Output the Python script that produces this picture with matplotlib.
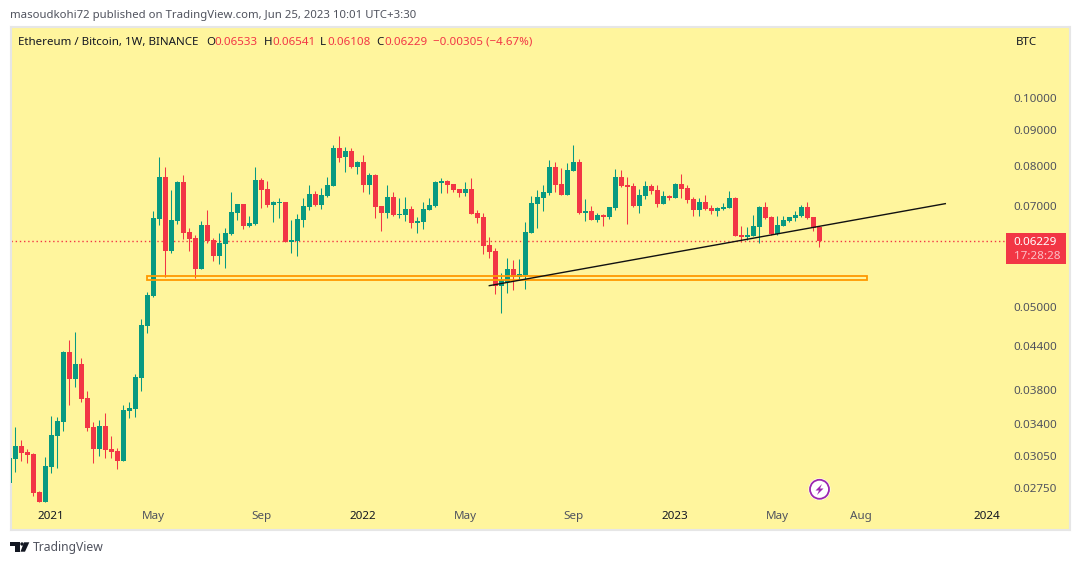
import matplotlib
matplotlib.use("Agg")
import matplotlib.pyplot as plt
from matplotlib.patches import Circle, Polygon, Rectangle

plt.rcParams['font.family'] = ['Noto Sans', 'DejaVu Sans']

# Weekly ETH/BTC candles
opens = [.02794, .03025, .03159, .03097, .03076, .02712, .02623, .02947, .03266, .03421,
         .04314, .03944, .04146, .03704, .03365, .03127, .03376, .03127, .03107, .03005,
         .03547, .03571, .03958, .04703, .05195, .06706, .07708, .0603, .06661, .07581,
         .06423, .06296, .05681, .06574, .06254, .05932, .06172, .06381, .06841, .07048,
         .06552, .06596, .07631, .07407, .07025, .07071, .07095, .06213, .06234, .06683,
         .06978, .07286, .07025, .07237, .07482, .08486, .08237, .08402, .07968, .08101,
         .07507, .0776, .07001, .06841, .07213, .06796, .06796, .06931, .06618, .0664,
         .06908, .07001, .07556, .07606, .07531, .07407, .0731, .07407, .06841, .06751,
         .06152, .0603, .0537, .05442, .05681, .05533, .0557, .06402, .07048, .07189,
         .0731, .07968, .07531, .07262, .07862, .08101, .06841, .06886, .06683, .06796,
         .06751, .06955, .07708, .07507, .07482, .07001, .07237, .07482, .07382, .07048,
         .07237, .07189, .07531, .07432, .07165, .06908, .07095, .06955, .06886, .06931,
         .06955, .07189, .0636, .06317, .06338, .0653, .06978, .06751, .06381, .06552,
         .06661, .06728, .06773, .06978, .06751, .06533]
highs = [.03035, .03365, .03222, .03127, .03086, .02721, .03046, .03489, .03478, .04328,
         .04489, .0461, .04229, .03791, .03421, .03443, .03524, .03266, .03138, .03619,
         .03655, .04011, .04813, .05264, .06886, .08237, .07968, .07382, .07606, .0776,
         .06509, .0636, .06661, .06908, .06296, .06402, .06509, .07334, .07048, .07048,
         .06773, .07968, .07682, .07606, .07118, .07189, .07095, .06683, .06818, .07189,
         .07507, .07358, .07432, .07708, .08571, .0883, .08514, .08486, .08127, .08292,
         .07811, .07785, .07001, .07507, .07334, .07189, .07213, .07001, .06751, .07095,
         .07189, .07606, .07682, .07631, .07531, .07407, .07581, .07682, .06908, .06841,
         .06317, .06091, .05607, .05892, .05853, .05873, .0664, .07237, .07382, .07507,
         .08154, .08101, .07941, .08074, .08571, .08182, .07165, .07001, .06841, .06818,
         .06978, .07915, .07888, .07708, .07556, .07407, .07606, .07531, .07507, .07358,
         .07262, .07556, .07785, .07507, .07213, .07189, .07262, .07025, .06978, .07071,
         .07358, .07213, .06552, .0653, .06796, .07001, .07095, .06773, .06773, .06773,
         .06751, .06886, .07025, .07095, .06751, .06541]
lows = [.02794, .02898, .03005, .02986, .02677, .02623, .02623, .02888, .02937, .0332,
        .03619, .03841, .03655, .0332, .02986, .03056, .03035, .03035, .02927, .03005,
        .03466, .03478, .03791, .04595, .05178, .06574, .05533, .05991, .06596, .06275,
        .0603, .05514, .05681, .06193, .05834, .05777, .057, .0636, .06683, .06487,
        .0653, .06574, .06955, .06978, .0664, .06728, .06213, .05991, .05932, .0653,
        .06908, .07001, .06931, .07213, .07482, .08101, .07837, .07941, .07785, .07334,
        .07286, .06728, .06444, .06728, .06773, .06728, .06661, .06509, .06402, .06487,
        .06908, .06978, .0731, .0731, .07334, .07213, .07237, .06818, .06618, .05971,
        .05892, .05229, .0491, .05247, .05298, .05477, .05317, .06402, .06509, .06886,
        .07262, .07334, .07262, .07262, .07862, .06818, .06661, .06683, .0664, .06552,
        .06706, .06908, .07457, .06596, .06978, .06841, .07165, .07286, .06978, .07048,
        .07141, .07189, .07189, .07071, .06773, .06773, .06908, .06818, .06773, .06908,
        .06955, .06338, .06213, .06254, .06338, .06193, .06706, .0636, .0636, .06552,
        .0664, .06661, .06751, .06706, .06444, .06108]
closes = [.03035, .03159, .03086, .03066, .02703, .02623, .02956, .03276, .03432, .04314,
          .03944, .04146, .03691, .03353, .03127, .03376, .03117, .03097, .03005, .03559,
          .03583, .03971, .04718, .05212, .06728, .07708, .0603, .06683, .07581, .06402,
          .06275, .05681, .06574, .06234, .05932, .06193, .06402, .06863, .07048, .06552,
          .06618, .07631, .07382, .07025, .07095, .07095, .06213, .06254, .06706, .07001,
          .07286, .07025, .07262, .07507, .08486, .08209, .08402, .07968, .08101, .07507,
          .0776, .06978, .06841, .07213, .06796, .06818, .06931, .06618, .06661, .06931,
          .07025, .07581, .07606, .07507, .07382, .0731, .07407, .06818, .06728, .06132,
          .06011, .0537, .05477, .05681, .05533, .05588, .06423, .07071, .07213, .07334,
          .07968, .07507, .07262, .07888, .08101, .06841, .06886, .06683, .06796, .06751,
          .06978, .07708, .07482, .07457, .07001, .07262, .07482, .07358, .07048, .07237,
          .07189, .07531, .07407, .07141, .06908, .07095, .06931, .06886, .06955, .06978,
          .07189, .06338, .06317, .0636, .06552, .06978, .06728, .06381, .06574, .06683,
          .06751, .06796, .06978, .06728, .06509, .06229]

# Axis labels
price_ticks = [.1, .09, .08, .07, .05, .044, .038, .034, .0305, .0275]
time_ticks = [7, 24, 42, 59, 76, 94, 111, 128, 142, 163]
time_labels = ["2021", "May", "Sep", "2022", "May", "Sep", "2023", "May", "Aug", "2024"]
year_labels = ["2021", "2022", "2023", "2024"]

# Drawings on the chart
zone_start, zone_end = 23, 143
zone_low, zone_high = .05468, .05541
trend_x = [80, 156]
trend_y = [.05375, .07055]
last_price = .06229

bg_color = "#fff59d"
green = "#089981"
red = "#f23645"
text_color = "#131722"
grey_text = "#50535e"

W, H = 1080, 565
fig = plt.figure(figsize=(W / 100, H / 100), dpi=100, facecolor="white")
ax = fig.add_axes([10.5 / W, 1 - 530 / H, 1059 / W, 503 / H], facecolor=bg_color)

# candles
for i in range(len(opens)):
    color = green if closes[i] >= opens[i] else red
    ax.vlines(i, lows[i], highs[i], color=color, linewidth=0.75, zorder=2, snap=True)
    ax.bar(i, abs(closes[i] - opens[i]), bottom=min(opens[i], closes[i]), width=0.86,
           color=color, linewidth=0, zorder=3)

ax.set_yscale("log")
ax.set_xlim(0.2, 176.7)
ax.set_ylim(.0239, .12676)

# price line, zone and trend line
ax.plot([0.2, 166], [last_price, last_price], color=red, linewidth=1, linestyle=(0, (1, 2)), zorder=1)
ax.add_patch(Rectangle((zone_start, zone_low), zone_end - zone_start, zone_high - zone_low,
                       fill=False, edgecolor="#ff9800", linewidth=1.3, zorder=4))
ax.plot(trend_x, trend_y, color="#111111", linewidth=1, zorder=5)

# axis ticks sit inside the pane like on TradingView
ax.yaxis.tick_right()
ax.set_yticks(price_ticks)
ax.set_yticklabels(["%.5f" % p for p in price_ticks])
ax.minorticks_off()
ax.tick_params(axis="y", length=0, pad=-40.5, labelsize=8.4, labelcolor=grey_text)
ax.set_xticks(time_ticks)
ax.set_xticklabels(time_labels)
ax.tick_params(axis="x", length=0, pad=-13.7, labelsize=8.4)
for lab in ax.get_xticklabels():
    if lab.get_text() in year_labels:
        lab.set_color(text_color)
        lab.set_fontweight("bold")
    else:
        lab.set_color(grey_text)
for lab in ax.get_yticklabels():
    lab.set_ha("left")

for s in ax.spines.values():
    s.set_color("#e6e6e6")
    s.set_linewidth(1.5)


def put(x, y, s, **kw):
    kw.setdefault("fontsize", 8.3)
    kw.setdefault("color", text_color)
    kw.setdefault("va", "center")
    fig.text(x / W, 1 - (y + 1.5) / H, s, **kw)


# header texts
put(10, 14, "masoudkohi72 published on TradingView.com, Jun 25, 2023 10:01 UTC+3:30", color=grey_text, fontsize=8.2)
put(18, 41, "Ethereum / Bitcoin, 1W, BINANCE")
put(206, 41, "O")
put(214, 41, "0.06533", color=red)
put(263.5, 41, "H")
put(272, 41, "0.06541", color=red)
put(320, 41, "L")
put(327.5, 41, "0.06108", color=red)
put(376.5, 41, "C")
put(384.5, 41, "0.06229", color=red)
put(433, 41, "\u22120.00305 (\u22124.67%)", color=red)
put(1016, 41, "BTC")

# last price label
fig.patches.append(Rectangle((1006 / W, 1 - 264 / H), 60 / W, 31 / H, transform=fig.transFigure,
                             facecolor=red, edgecolor="none", zorder=6))
put(1013, 241, "0.06229", color="white", fontweight="bold", fontsize=8.4, zorder=7)
put(1014, 255, "17:28:28", color="#fbc0c6", fontsize=8.4, zorder=7)

# lightning icon
fig.patches.append(Circle((819.5, H - 489.3), 11, transform=None, facecolor="white", edgecolor="none", zorder=6))
fig.patches.append(Circle((819.5, H - 489.3), 9.5, transform=None, facecolor="white", edgecolor="#9c27b0",
                          linewidth=1.3, zorder=7))
bolt = [(822, 484), (815.5, 490.5), (819, 490.5), (817, 495), (823.5, 488.5), (820, 488.5)]
fig.patches.append(Polygon([(a, H - b) for a, b in bolt], transform=None, facecolor="#9c27b0",
                           edgecolor="none", zorder=8))

# TradingView logo
logo = [[(10, 542.3), (20, 542.3), (20, 551.7), (15, 551.7), (15, 545.6), (10, 545.6)],
        [(24, 542.3), (29.3, 542.3), (25, 551.7), (20.5, 551.7)]]
for shape in logo:
    fig.patches.append(Polygon([(a, H - b) for a, b in shape], transform=None, facecolor=text_color,
                               edgecolor="none", zorder=6))
fig.patches.append(Circle((22, H - 544), 1.7, transform=None, facecolor=text_color, edgecolor="none", zorder=6))
put(33, 546, "TradingView", color=grey_text, fontsize=8.75)

fig.savefig("out.png", dpi=100, facecolor="white")
